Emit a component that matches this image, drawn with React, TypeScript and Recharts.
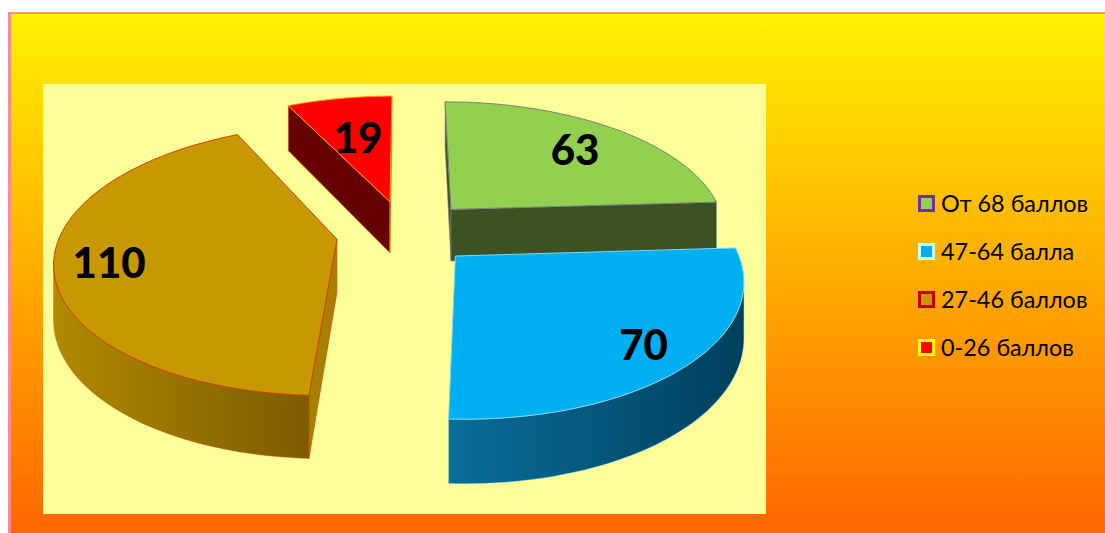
import React from "react";
import { PieChart, Pie, Legend } from "recharts";

const categories = ["От 68 баллов", "47-64 балла", "27-46 баллов", "0-26 баллов"];
const values = [63, 70, 110, 19];
const topColors = ["#92D050", "#00B0F0", "#C89800", "#FF0000"];
const edgeColors = ["#7F7F7F", "#7FD8F8", "#D04000", "#FFA000"];
const wallStart = ["#3B5323", "#0A6E9C", "#B08A00", "#660000"];
const wallEnd = ["#3B5323", "#003F5C", "#7C5C00", "#660000"];
const sideColors = ["#3B5323", "#0A6E9C", "#A88000", "#660000"];
const markerBorders = ["#7030A0", "#CCFFFF", "#C00000", "#FFFF00"];
// label nudges from the projected slice middle (style only)
const labelNudges = [
  [23, -10],
  [55, 26],
  [-60, 6],
  [0, 0],
];

const rows = categories.map((name, i) => ({ name, value: values[i], fill: topColors[i], slot: i }));

const K = 0.152;
const RX = 276;
const RY = 130.4;
const EXPLODE = 0.25;
const DEPTH = 53;
const RAD = Math.PI / 180;

type P = { x: number; y: number; h: number };
function project(cx: number, cy: number, u: number, v: number): P {
  const w = 1 + K * v;
  return { x: cx + (RX * u) / w, y: cy - (RY * v) / w, h: DEPTH / w };
}
const down = (p: P) => `${p.x.toFixed(1)},${(p.y + p.h).toFixed(1)}`;
const at = (p: P) => `${p.x.toFixed(1)},${p.y.toFixed(1)}`;

function SliceShape(props: any) {
  const { cx, cy, startAngle, endAngle } = props;
  const slot = props.slot ?? props.payload?.slot ?? 0;
  const mid = ((startAngle + endAngle) / 2) * RAD;
  const ou = EXPLODE * Math.cos(mid);
  const ov = EXPLODE * Math.sin(mid);
  const apex = project(cx, cy, ou, ov);
  const arc: P[] = [];
  const steps = 60;
  for (let i = 0; i <= steps; i++) {
    const a = (startAngle + ((endAngle - startAngle) * i) / steps) * RAD;
    arc.push(project(cx, cy, ou + Math.cos(a), ov + Math.sin(a)));
  }
  const front: P[] = [];
  arc.forEach((p, i) => {
    const next = arc[i + 1];
    const prev = arc[i - 1];
    if ((next && next.x < p.x) || (prev && p.x < prev.x)) front.push(p);
  });
  const midArc = arc[Math.floor(steps / 2)];
  const radial = (e: P) => {
    const dx = e.x - apex.x;
    if (Math.abs(dx) < 1e-3) return false;
    const lineY = apex.y + ((e.y - apex.y) * (midArc.x - apex.x)) / dx;
    return midArc.y < lineY;
  };
  const wall = (e: P) => `${at(apex)} ${at(e)} ${down(e)} ${down(apex)}`;
  const gid = `wall-${slot}`;
  const top = [apex, ...arc].map(at).join(" ");
  const outer = [...front.map(at), ...[...front].reverse().map(down)].join(" ");
  return (
    <g>
      <defs>
        <linearGradient id={gid} x1="0" y1="0" x2="1" y2="0">
          <stop offset="0" stopColor={wallStart[slot]} />
          <stop offset="1" stopColor={wallEnd[slot]} />
        </linearGradient>
      </defs>
      {radial(arc[0]) && (
        <polygon points={wall(arc[0])} fill={sideColors[slot]} stroke={edgeColors[slot]} strokeWidth={0.6} />
      )}
      {radial(arc[steps]) && (
        <polygon points={wall(arc[steps])} fill={sideColors[slot]} stroke={edgeColors[slot]} strokeWidth={0.6} />
      )}
      {front.length > 1 && <polygon points={outer} fill={`url(#${gid})`} stroke={edgeColors[slot]} strokeWidth={0.4} />}
      <polygon points={top} fill={topColors[slot]} stroke={edgeColors[slot]} strokeWidth={1} />
    </g>
  );
}

function SliceLabel(props: any) {
  const { cx, cy, startAngle, endAngle, value } = props;
  const slot = props.slot ?? props.payload?.slot ?? 0;
  const mid = ((startAngle + endAngle) / 2) * RAD;
  const r = EXPLODE + 0.6;
  const p = project(cx, cy, r * Math.cos(mid), r * Math.sin(mid));
  return (
    <text
      x={p.x + labelNudges[slot][0]}
      y={p.y + labelNudges[slot][1]}
      textAnchor="middle"
      dominantBaseline="central"
      fontFamily="Lato, sans-serif"
      fontWeight={900}
      fontSize={42}
      fill="#000"
    >
      {value}
    </text>
  );
}

function LegendBox(props: any) {
  const items = props.payload ?? [];
  return (
    <div>
      {items.map((it: any, i: number) => (
        <div key={i} style={{ display: "flex", alignItems: "center", height: 48 }}>
          <span
            style={{
              width: 11,
              height: 11,
              background: it.color,
              border: `3px solid ${markerBorders[i]}`,
              marginRight: 6,
              display: "inline-block",
            }}
          />
          <span style={{ fontFamily: "Lato, sans-serif", fontSize: 23.4, color: "#000", whiteSpace: "nowrap" }}>
            {it.value}
          </span>
        </div>
      ))}
    </div>
  );
}

export default function App() {
  return (
    <div style={{ position: "absolute", left: 0, top: 0, width: 1105, height: 533, overflow: "hidden", background: "#fff" }}>
      <div
        style={{
          position: "absolute",
          left: 8,
          top: 12,
          width: 1097,
          height: 521,
          boxSizing: "border-box",
          borderLeft: "3px solid #FF8A94",
          borderTop: "2px solid #FF8A94",
          background: "linear-gradient(to bottom, #FFF200 0%, #FF6600 100%)",
        }}
      />
      <div style={{ position: "absolute", left: 43, top: 84, width: 723, height: 430, background: "#FFFF99" }} />
      <div style={{ position: "absolute", left: 0, top: 0 }}>
        <PieChart width={1105} height={533} margin={{ top: 0, right: 0, bottom: 0, left: 0 }}>
          <Pie
            data={rows}
            dataKey="value"
            nameKey="name"
            cx={405}
            cy={232.5}
            outerRadius={100}
            startAngle={90}
            endAngle={-270}
            isAnimationActive={false}
            shape={SliceShape}
            label={SliceLabel}
            labelLine={false}
          />
          <Legend
            layout="vertical"
            align="right"
            verticalAlign="top"
            content={LegendBox}
            itemSorter={null}
            wrapperStyle={{ left: 918, top: 179, width: 180 }}
          />
        </PieChart>
      </div>
    </div>
  );
}
